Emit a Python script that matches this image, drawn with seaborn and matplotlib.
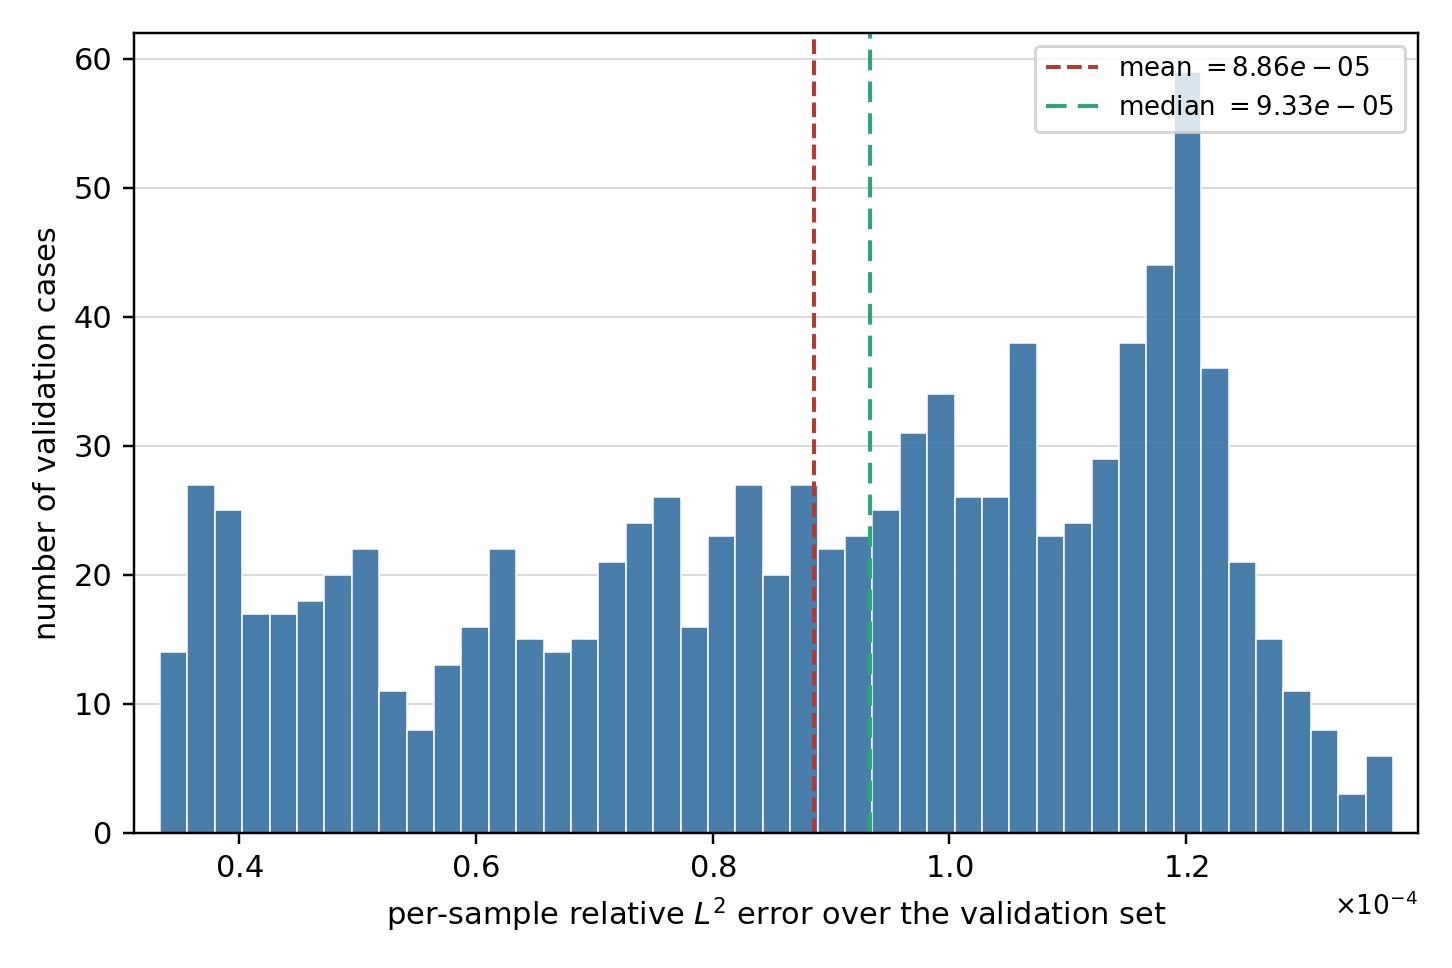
import numpy as np
import pandas as pd
import matplotlib
matplotlib.use("Agg")
import matplotlib.pyplot as plt
import seaborn as sns
from matplotlib.ticker import ScalarFormatter

# Histogram counts (45 bins)
counts = [14, 27, 25, 17, 17, 18, 20, 22, 11, 8, 13, 16, 22, 15, 14, 15, 21, 24,
          26, 16, 23, 27, 20, 27, 22, 23, 25, 31, 34, 26, 26, 38, 23, 24, 29, 38,
          44, 59, 36, 21, 15, 11, 8, 3, 6]
bin_lo = 3.333e-5
bin_hi = 1.3749e-4
mean_val = 8.86e-5
median_val = 9.33e-5

n_bins = len(counts)
width = (bin_hi - bin_lo) / n_bins
centers = bin_lo + (np.arange(n_bins) + 0.5) * width
df = pd.DataFrame({"err": centers, "n": counts})

sns.set_style("ticks")
plt.rcParams["font.family"] = ["DejaVu Sans"]
plt.rcParams["mathtext.fontset"] = "dejavusans"
plt.rcParams["text.color"] = "black"
plt.rcParams["axes.labelcolor"] = "black"

fig = plt.figure(figsize=(6.6, 4.4), dpi=220)
ax = fig.add_axes([0.0923, 0.1395, 0.9766 - 0.0923, 0.9659 - 0.1395])

sns.histplot(data=df, x="err", weights="n", bins=n_bins, binrange=(bin_lo, bin_hi),
             color="#3f76a6", alpha=0.95, edgecolor="white", linewidth=0.5, ax=ax)

ax.axvline(mean_val, color="#b8392c", linestyle="--", linewidth=1.3,
           label=f"mean $= {mean_val:.2e}$")
ax.axvline(median_val, color="#27a877", linestyle=(0, (5.2, 2.8)), linewidth=1.3,
           label=f"median $= {median_val:.2e}$")

ax.set_xlim(3.113e-5, 1.396e-4)
ax.set_ylim(0, 62)
fmt = ScalarFormatter(useMathText=True)
fmt.set_powerlimits((-3, 3))
ax.xaxis.set_major_formatter(fmt)
ax.set_xticks([4e-5, 6e-5, 8e-5, 1e-4, 1.2e-4])
ax.xaxis.get_offset_text().set_fontsize(8.6)

ax.grid(axis="y", color="#d5d8dc", linewidth=0.6)
ax.set_axisbelow(True)
for s in ax.spines.values():
    s.set_visible(True)
    s.set_color("black")
    s.set_linewidth(0.8)
ax.tick_params(labelsize=10, length=3.5, width=0.8, colors="black")

ax.set_xlabel("per-sample relative $L^2$ error over the validation set", fontsize=10)
ax.set_ylabel("number of validation cases", fontsize=10)
ax.legend(loc="upper right", fontsize=8.5, framealpha=0.8)

fig.savefig("out.png", dpi=220)
